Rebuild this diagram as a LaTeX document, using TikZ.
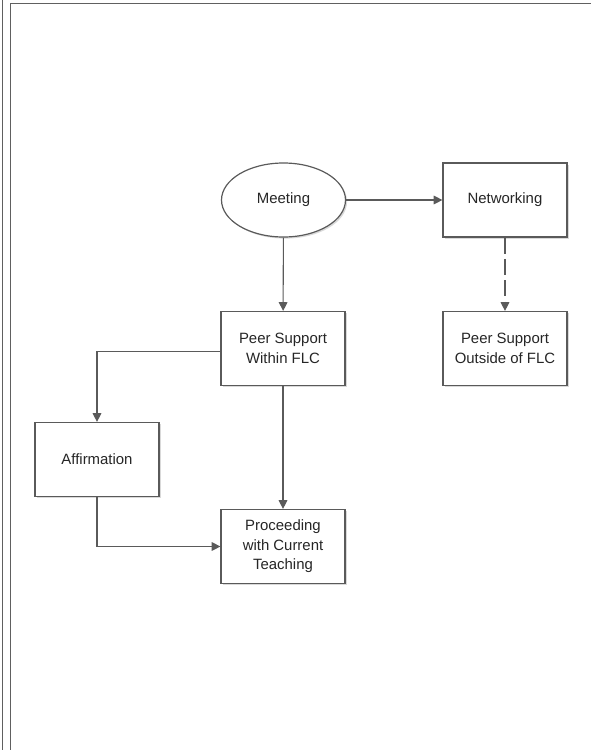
\documentclass[tikz,border=0pt]{standalone}
\usepackage{fontspec}
\setmainfont{Liberation Sans}
\usetikzlibrary{arrows.meta,positioning,shapes.geometric,shadows}
\definecolor{edge}{HTML}{5A5A5A}
\definecolor{frame}{HTML}{606060}
\tikzset{box/.style={draw=edge,line width=0.9pt,fill=white,align=center,minimum width=93pt,minimum height=55.5pt,inner sep=0pt,font=\fontsize{11.2}{14.6}\selectfont,text=black!85,drop shadow={shadow xshift=1.2pt,shadow yshift=-1.2pt,fill=black!15,opacity=1}},oval/.style={box,ellipse},arrow/.style={-{Triangle[length=6.5pt,width=6.5pt]},draw=edge,line width=0.8pt},dashedarrow/.style={arrow,dash pattern=on 12pt off 4pt}}

\begin{document}
\begin{tikzpicture}[x=0.75pt,y=-0.75pt]
\useasboundingbox (0,0) rectangle (591,750);
\draw[frame,line width=1.2pt] (2.5,0)--(2.5,750);
\draw[frame,line width=1.2pt] (10.5,750)--(10.5,3.5)--(591,3.5);
\node[oval] (meet) at (283.5,200) {Meeting};
\node[box] (net) at (505,200) {Networking};
\node[box] (psw) at (283,348.5) {Peer Support\\Within FLC};
\node[box] (pso) at (505,348.5) {Peer Support\\Outside of FLC};
\node[box] (aff) at (97,459.5) {Affirmation};
\node[box] (proc) at (283,546.5) {Proceeding\\with Current\\Teaching};
\draw[arrow](meet)--(net);\draw[arrow](meet)--(psw);\draw[dashedarrow](net)--(pso);
\draw[arrow]([yshift=-2pt]psw.west)-|(aff.north);\draw[arrow](psw)--(proc);\draw[arrow](aff.south)|-(proc.west);
\end{tikzpicture}
\end{document}
